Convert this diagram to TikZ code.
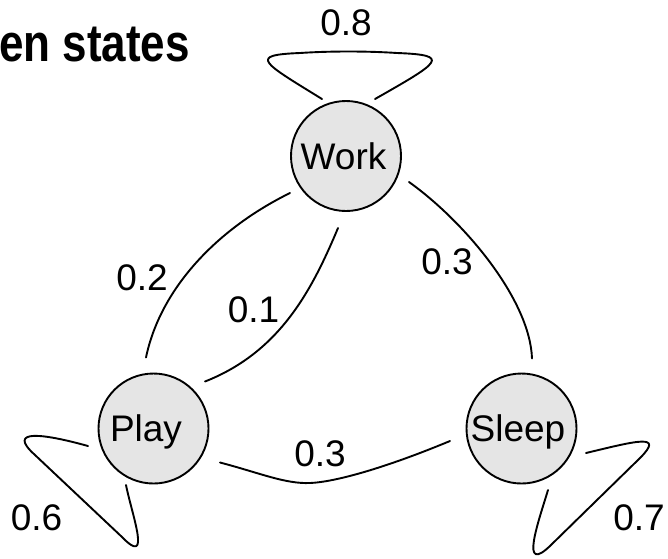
\documentclass[tikz,border=0pt]{standalone}
\usepackage{fontspec}
\usepackage{graphicx}
\setmainfont{Liberation Sans}
\usetikzlibrary{calc}
\tikzset{
  state/.style={circle, draw, line width=1.9pt, fill=black!10,
    minimum size=110pt, inner sep=0pt, text height=26pt, text depth=0pt,
    font=\fontsize{37}{41}\selectfont},
  prob/.style={inner sep=0pt, font=\fontsize{37}{41}\selectfont},
  edge/.style={line width=1.9pt, line join=round, line cap=round},
  heading/.style={inner sep=0pt, anchor=base west,
    font=\bfseries\fontsize{44}{50}\selectfont}
}
\begin{document}
\begin{tikzpicture}[x=1pt,y=-1pt]
\useasboundingbox (0,0) rectangle (668,558);

% title (partly cut by the left border)
\node[heading] (title) at (-1,61) {\scalebox{1}[1.2]{en states}};

% states
\node[state] (work)  at (346,156)   {Work\kern5pt};
\node[state] (play)  at (153.5,428.5) {Play\kern15pt};
\node[state] (sleep) at (521.5,428.5) {Sleep\kern7pt};

% self loops
\draw[edge] ($(work)+(-24,-57)$) .. controls (262,62) and (248,55) .. (300,53)
  .. controls (330,51) and (367,51) .. (397,53)
  .. controls (452,55) and (440,62) .. ($(work)+(29,-57)$);
\draw[edge] ($(play)+(-65.5,17.5)$) .. controls (45,434) and (5,428) .. (35,455)
  -- (122,537) .. controls (152,568) and (132,515) .. ($(play)+(-27.5,56.5)$);
\draw[edge] ($(sleep)+(64.5,24.5)$) .. controls (636,441) and (665,433) .. (640,458)
  -- (552,544) .. controls (518,578) and (539,520) .. ($(sleep)+(26.5,61.5)$);

% transitions between states
\draw[edge] ($(work)+(-56,37)$) .. controls (215,230) and (160,290) .. ($(play)+(-7.5,-71)$);
\draw[edge] ($(work)+(-8,72)$) .. controls (312,290) and (280,352) .. ($(play)+(51.5,-47)$);
\draw[edge] ($(work)+(63,26)$) .. controls (465,222) and (530,300) .. ($(sleep)+(10.5,-70)$);
\draw[edge] ($(play)+(66.5,34)$) .. controls (260,473) and (285,484) .. (310,483)
  .. controls (335,482) and (385,468) .. ($(sleep)+(-71.5,12.5)$);

% transition probabilities
\node[prob] (pww) at (346,22.5) {0.8};
\node[prob] (pwp) at (142,277.5) {0.2};
\node[prob] (ppw) at (253.5,310) {0.1};
\node[prob] (pws) at (447,262) {0.3};
\node[prob] (pps) at (320,454) {0.3};
\node[prob] (ppp) at (36.5,518) {0.6};
\node[prob] (pss) at (639,517.5) {0.7};
\end{tikzpicture}
\end{document}
